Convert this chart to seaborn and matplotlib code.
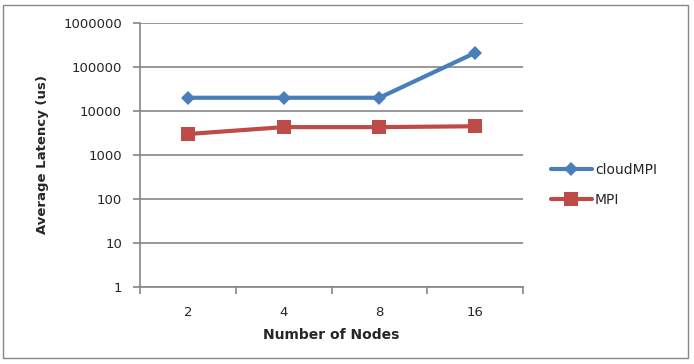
import matplotlib
matplotlib.use("Agg")
import matplotlib.pyplot as plt
import matplotlib.patches as mpatches
import seaborn as sns
import pandas as pd
import numpy as np

nodes = ["2", "4", "8", "16"]
cloudmpi = [20000, 20000, 20000, 210000]
mpi = [3000, 4300, 4300, 4500]
yticks = [1, 10, 100, 1000, 10000, 100000, 1000000]
ytick_labels = ["1", "10", "100", "1000", "10000", "100000", "1000000"]

sns.set_theme(style="white")
plt.rcParams['font.family'] = ['DejaVu Sans']

df = pd.DataFrame({
    "pos": list(range(len(nodes))) * 2,
    "latency": cloudmpi + mpi,
    "series": ["cloudMPI"] * len(nodes) + ["MPI"] * len(nodes),
})

fig = plt.figure(figsize=(6.94, 3.64), dpi=100)
ax = fig.add_axes([140/694, 1-287/364, (523-140)/694, (287-23)/364])

palette = {"cloudMPI": "#4A7EBB", "MPI": "#BE4B48"}
sns.lineplot(data=df, x="pos", y="latency", hue="series", style="series",
             markers={"cloudMPI": "D", "MPI": "s"}, dashes=False,
             palette=palette, linewidth=3, ax=ax, legend=False)
for line, ms in zip(ax.lines, [7.5, 10]):
    line.set_markersize(ms)
    line.set_markeredgewidth(0)

ax.set_yscale("log")
ax.set_ylim(1, 1000000)
ax.set_yticks(yticks)
ax.set_yticklabels(ytick_labels)
ax.minorticks_off()
ax.set_xlim(-0.5, len(nodes) - 0.5)
ax.set_xticks(np.arange(-0.5, len(nodes), 1.0))
ax.set_xticklabels([])
ax.set_xticks(range(len(nodes)), minor=True)
ax.set_xticklabels(nodes, minor=True)
ax.tick_params(axis="x", which="minor", bottom=False, length=0, pad=14, labelsize=9.5)
ax.tick_params(axis="x", which="major", bottom=True, length=5, direction="out", color="#868686", width=1.2)
ax.tick_params(axis="y", which="major", left=True, length=5, direction="out", color="#868686",
               labelsize=9.5, pad=8, width=1.2)

ax.grid(axis="y", color="#868686", linewidth=1.2)
for s in ["top", "right"]:
    ax.spines[s].set_visible(False)
for s in ["left", "bottom"]:
    ax.spines[s].set_color("#868686")
    ax.spines[s].set_linewidth(1.2)

ax.set_xlabel("Number of Nodes", fontsize=10, fontweight="bold", labelpad=6)
ax.set_ylabel("Average Latency (us)", fontsize=9.5, fontweight="bold", labelpad=10)

handles = [
    plt.Line2D([], [], color=palette["cloudMPI"], marker="D", markersize=7.5, linewidth=3, markeredgewidth=0),
    plt.Line2D([], [], color=palette["MPI"], marker="s", markersize=10, linewidth=3, markeredgewidth=0),
]
fig.legend(handles, ["cloudMPI", "MPI"], loc="center left", bbox_to_anchor=(538/694, 1-185/364),
           frameon=False, fontsize=10, handlelength=3.0, labelspacing=1.2, handletextpad=0.2)

fig.patches.append(mpatches.Rectangle((3/694, 1-358/364), 685/694, 353/364, transform=fig.transFigure,
                                      fill=False, edgecolor="#868686", linewidth=1))

fig.savefig("out.png", dpi=100)
